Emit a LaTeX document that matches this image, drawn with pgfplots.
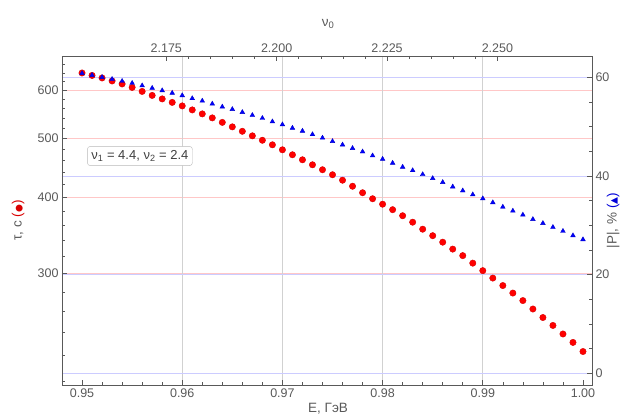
\documentclass[border=0pt]{standalone}
\usepackage{fontspec}
\setmainfont{Liberation Sans}
\newfontfamily\symfont{DejaVu Sans}
\usepackage{pgfplots}
\usepackage{pgfplotstable}
\pgfplotsset{compat=1.18}

\pgfplotstableread{
E tau
0.950 639.7
0.951 633.7
0.952 627.8
0.953 620.7
0.954 613.7
0.955 605.7
0.956 596.6
0.957 587.7
0.958 580.0
0.959 572.4
0.960 564.9
0.961 556.4
0.962 548.1
0.963 539.9
0.964 530.8
0.965 521.9
0.966 513.2
0.967 504.5
0.968 496.1
0.969 487.7
0.970 478.6
0.971 469.7
0.972 460.9
0.973 452.3
0.974 443.9
0.975 435.6
0.976 426.7
0.977 417.1
0.978 407.0
0.979 397.9
0.980 389.8
0.981 381.8
0.982 373.2
0.983 364.2
0.984 354.7
0.985 346.1
0.986 337.7
0.987 329.0
0.988 321.0
0.989 312.0
0.990 303.3
0.991 294.9
0.992 286.7
0.993 278.7
0.994 270.9
0.995 262.4
0.996 254.1
0.997 246.6
0.998 238.8
0.999 231.3
1.000 223.5
}\taudata

\pgfplotstableread{
E P
0.950 60.8
0.951 60.4
0.952 60.0
0.953 59.6
0.954 59.2
0.955 58.8
0.956 58.3
0.957 57.8
0.958 57.3
0.959 56.8
0.960 56.3
0.961 55.7
0.962 55.2
0.963 54.6
0.964 54.0
0.965 53.5
0.966 52.9
0.967 52.3
0.968 51.7
0.969 51.0
0.970 50.4
0.971 49.7
0.972 49.1
0.973 48.4
0.974 47.7
0.975 47.0
0.976 46.3
0.977 45.6
0.978 44.9
0.979 44.1
0.980 43.4
0.981 42.6
0.982 41.8
0.983 41.1
0.984 40.3
0.985 39.5
0.986 38.7
0.987 37.8
0.988 37.0
0.989 36.2
0.990 35.4
0.991 34.6
0.992 33.7
0.993 32.9
0.994 32.1
0.995 31.2
0.996 30.4
0.997 29.6
0.998 28.8
0.999 27.9
1.000 27.1
}\Pdata

\definecolor{framegray}{gray}{0.35}
\definecolor{labgray}{gray}{0.35}

\pgfplotsset{
  common/.style={
    set layers,
    scale only axis, width=530pt, height=329pt,
    at={(0,0)}, anchor=south west,
    axis line style={framegray},
    every tick/.style={framegray, line width=0.6pt},
    tick align=inside,
    major tick length=5pt, minor tick length=3pt,
    tick label style={font=\fontsize{12.5}{14}\selectfont, text=labgray},
    label style={font=\fontsize{13.5}{15}\selectfont, text=labgray},
    /pgf/number format/assume math mode=true,
    clip=false,
  },
}

\begin{document}
\begin{tikzpicture}
% bottom / left (log) axis
\begin{axis}[common,
  xmin=0.948, xmax=1.0009,
  ymode=log, ymin=197, ymax=682,
  xtick={0.95,0.96,0.97,0.98,0.99,1.00},
  xticklabels={0.95,0.96,0.97,0.98,0.99,1.00},
  minor x tick num=4,
  xtick pos=bottom,
  ytick={300,400,500,600},
  yticklabels={300,400,500,600},
  minor ytick={200,220,240,260,280,320,340,360,380,420,440,460,480,520,540,560,580,620,640,660,680},
  ytick pos=left,
  ymajorgrids, major grid style={red!22, line width=0.6pt},
  extra x ticks={0.96,0.97,0.98,0.99},
  extra x tick labels={},
  extra x tick style={xmajorgrids, major grid style={black!18, line width=0.6pt}, major tick length=0pt},
  xlabel={E, ГэВ},
  xlabel style={at={(axis description cs:0.502,-0.072)}, anchor=center},
  ylabel={τ, с {\color{red!85!black}({\symfont\fontsize{9}{10}\selectfont ●})}},
  ylabel style={at={(axis description cs:-0.083,0.5)}, anchor=center, rotate=0},
]
\addplot[only marks, mark=*, mark size=3.2pt, mark options={fill=red, draw=red!85!black}] table[x=E, y=tau] {\taudata};
\node[draw=gray!55, rounded corners=3pt, fill=white, inner sep=4pt,
      font=\fontsize{13}{15}\selectfont, text=black!75]
  at (axis description cs:0.147,0.696)
  {ν\textsubscript{1} = 4.4, ν\textsubscript{2} = 2.4};
\end{axis}

% right (linear) axis
\begin{axis}[common,
  xmin=0.948, xmax=1.0009,
  ymin=-2.4, ymax=64.3,
  xtick=\empty,
  ytick={0,20,40,60},
  minor y tick num=3,
  ytick pos=right,
  ymajorgrids, major grid style={blue!20, line width=0.6pt},
  ylabel={|P|, \% {\color{blue!85!black}({\symfont\fontsize{9}{10}\selectfont ▲})}},
  ylabel style={at={(axis description cs:1.04,0.5)}, anchor=center, rotate=0},
]
\addplot[only marks, mark=triangle*, mark size=2.7pt, mark options={fill=blue, draw=blue!80!black}] table[x=E, y=P] {\Pdata};
\end{axis}

% top axis (nu_0)
\begin{axis}[common,
  xmin=2.15138, xmax=2.27142,
  ymin=0, ymax=1,
  ytick=\empty,
  xtick={2.175,2.2,2.225,2.25},
  xticklabels={2.175,2.200,2.225,2.250},
  minor x tick num=4,
  xtick pos=top,
  xticklabel pos=top,
  xlabel={ν\textsubscript{0}},
  xlabel style={at={(axis description cs:0.502,1.097)}, anchor=center},
]
\addplot[draw=none, forget plot] coordinates {(2.16,0.5) (2.26,0.5)};
\end{axis}
\pgfresetboundingbox
\path[use as bounding box] (-62pt,-32pt) rectangle (570pt,385pt);
\end{tikzpicture}
\end{document}
